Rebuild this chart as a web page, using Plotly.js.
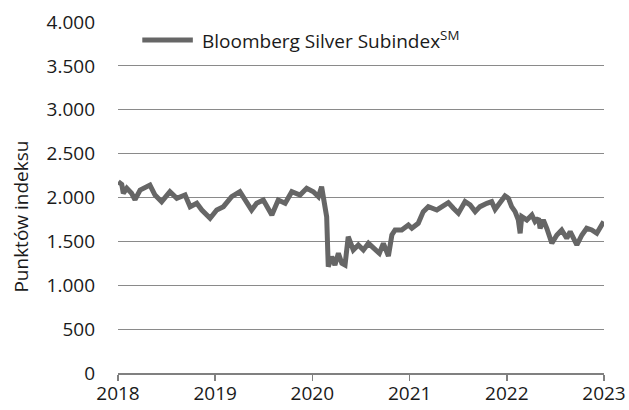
<!DOCTYPE html>
<html>
<head>
<meta charset="utf-8">
<script src="https://cdn.plot.ly/plotly-3.0.1.min.js"></script>
<style>html,body{margin:0;padding:0;background:#fff;}#chart{width:629px;height:410px;}</style>
</head>
<body>
<div id="chart"></div>
<script>
const dates = [
"2018-01-02","2018-01-15","2018-01-21","2018-02-03","2018-02-21","2018-03-06","2018-03-25","2018-05-01","2018-05-20","2018-06-14",
"2018-07-15","2018-08-10","2018-09-10","2018-09-29","2018-10-24","2018-11-12","2018-12-13","2019-01-07","2019-02-01","2019-03-04",
"2019-04-04","2019-04-23","2019-05-18","2019-06-06","2019-07-01","2019-08-02","2019-08-26","2019-09-21","2019-10-16","2019-11-16",
"2019-12-11","2020-01-05","2020-01-24","2020-02-05","2020-02-12","2020-02-24","2020-03-01","2020-03-14","2020-03-26","2020-04-08",
"2020-04-21","2020-05-03","2020-05-15","2020-06-03","2020-06-22","2020-07-11","2020-07-30","2020-08-17","2020-09-09","2020-09-24",
"2020-10-13","2020-10-26","2020-11-07","2020-12-02","2020-12-27","2021-01-09","2021-02-02","2021-02-21","2021-03-12","2021-04-13",
"2021-04-25","2021-05-26","2021-06-14","2021-07-03","2021-07-28","2021-08-16","2021-09-04","2021-09-22","2021-10-18","2021-11-05",
"2021-11-18","2021-12-07","2021-12-25","2022-01-07","2022-01-19","2022-02-01","2022-02-13","2022-02-20","2022-02-26","2022-03-17",
"2022-04-05","2022-04-17","2022-04-30","2022-05-06","2022-05-18","2022-05-31","2022-06-19","2022-07-08","2022-07-26","2022-08-14",
"2022-08-27","2022-09-21","2022-10-10","2022-10-28","2022-11-16","2022-12-05","2022-12-17","2022-12-31"
];
const values = [
2180,2150,2048,2105,2048,1975,2085,2142,2028,1952,
2066,1990,2028,1895,1934,1857,1763,1857,1895,2009,
2066,1971,1857,1934,1971,1800,1971,1934,2066,2028,
2105,2066,2009,2123,1971,1781,1211,1325,1231,1364,
1250,1231,1553,1402,1459,1402,1478,1421,1364,1478,
1333,1573,1630,1630,1687,1649,1706,1839,1896,1858,
1877,1941,1877,1820,1953,1915,1839,1896,1934,1953,
1866,1934,2017,1991,1896,1839,1744,1592,1782,1744,
1801,1725,1763,1649,1744,1649,1478,1573,1630,1535,
1611,1459,1573,1649,1630,1592,1667,1725
];
const seriesName = "Bloomberg Silver Subindex<sup>SM</sup>";
const yTicks = [0,500,1000,1500,2000,2500,3000,3500,4000];
const xTicks = ["2018-01-01","2019-01-01","2020-01-01","2021-01-01","2022-01-01","2023-01-01"];
const xTickText = ["2018","2019","2020","2021","2022","2023"];
const yTitle = "Punktów indeksu";

const FONT = "Open Sans, sans-serif";
const trace = {
  x: dates, y: values, type: "scatter", mode: "lines", name: seriesName,
  line: {color: "#666666", width: 5}, showlegend: false
};
const layout = {
  width: 629, height: 410,
  margin: {l: 118, r: 25, t: 22, b: 37},
  paper_bgcolor: "#fff", plot_bgcolor: "#fff",
  separators: ",.",
  font: {family: FONT, size: 19, color: "#1a1a1a"},
  xaxis: {
    type: "date", range: ["2018-01-01","2023-01-01"],
    tickmode: "array", tickvals: xTicks, ticktext: xTickText,
    showgrid: false, zeroline: false,
    showline: true, linecolor: "#808080", linewidth: 1.5,
    ticks: "outside", ticklen: 6, tickcolor: "#808080", tickwidth: 1.5,
    ticklabelstandoff: -3,
    fixedrange: true
  },
  yaxis: {
    range: [0, 4000], tickmode: "array", tickvals: yTicks, tickformat: ",d",
    showgrid: true, gridcolor: "#8a8a8a", gridwidth: 1.2, zeroline: false,
    ticks: "", ticklabelstandoff: 22,
    automargin: false, fixedrange: true
  },
  shapes: [{
    type: "line", xref: "paper", yref: "paper",
    x0: 0.05, x1: 0.154, y0: 0.949, y1: 0.949,
    line: {color: "#666666", width: 5}
  }],
  annotations: [{
    xref: "paper", yref: "paper", x: 0.168, y: 0.949,
    xanchor: "left", yanchor: "middle", showarrow: false,
    text: seriesName, font: {family: FONT, size: 19, color: "#1a1a1a"}
  }, {
    xref: "paper", yref: "paper", x: -0.2, y: 0.445,
    xanchor: "center", yanchor: "middle", showarrow: false, textangle: -90,
    text: yTitle, font: {family: FONT, size: 19, color: "#1a1a1a"}
  }]
};
Plotly.newPlot("chart", [trace], layout, {displayModeBar: false, staticPlot: true});
</script>
</body>
</html>
